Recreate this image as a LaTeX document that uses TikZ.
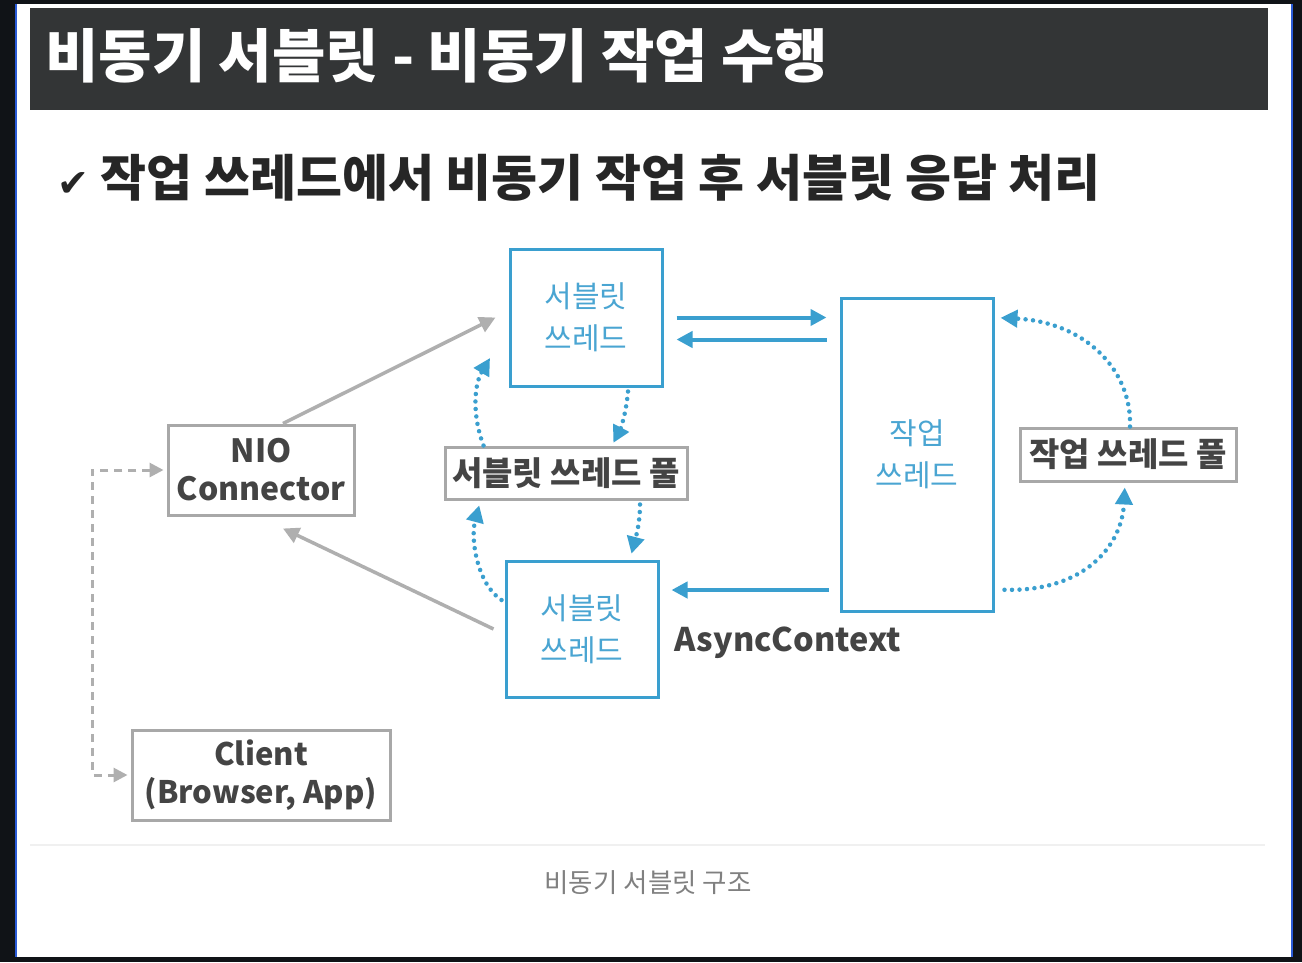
\documentclass[tikz,border=0pt]{standalone}
\usepackage{fontspec}
\setmainfont{Noto Sans CJK KR}
\newfontfamily\symfont{DejaVu Sans}
\usetikzlibrary{arrows.meta,calc}
\definecolor{bframe}{HTML}{101317}
\definecolor{bline}{HTML}{2A5BD7}
\definecolor{tbar}{HTML}{333536}
\definecolor{sblue}{HTML}{3A9FCF}
\definecolor{tblue}{HTML}{4AA5D2}
\definecolor{gbox}{HTML}{A8A8A8}
\definecolor{gtext}{HTML}{444444}
\definecolor{garrow}{HTML}{AFAFAF}
\tikzset{
  bluebox/.style={draw=sblue, line width=3pt, inner sep=0pt, text=tblue, align=center, font=\fontsize{30}{42}\selectfont},
  graybox/.style={draw=gbox, line width=3pt, inner sep=0pt, text=gtext, align=center, font=\bfseries\fontsize{32}{38}\selectfont},
  barrow/.style={draw=sblue, line width=4pt, -{Triangle[length=16pt,width=16pt]}},
  bdot/.style={draw=sblue, line width=4.5pt, line cap=round, dash pattern=on 0pt off 7.5pt, -{Triangle[length=17pt,width=17pt]}},
  garr/.style={draw=garrow, line width=3.5pt, -{Triangle[length=16pt,width=16pt]}},
  gdash/.style={draw=garrow, line width=3pt, dash pattern=on 8pt off 6pt, {Triangle[length=14pt,width=14pt]}-{Triangle[length=14pt,width=14pt]}}
}
\begin{document}
\begin{tikzpicture}[x=1pt,y=-1pt]
\useasboundingbox (0,0) rectangle (1302,962);
\fill[bframe] (0,0) rectangle (1302,962);
\fill[white] (16,4) rectangle (1292,957);
\draw[bline, line width=2pt] (16,4) -- (16,957);
\draw[bline, line width=2pt] (1292,4) -- (1292,957);
% title bar
\fill[tbar] (30,8) rectangle (1268,110);
\node[anchor=west, text=white, font=\bfseries\fontsize{58}{64}\selectfont] (title) at (42,56) {비동기 서블릿 - 비동기 작업 수행};
\node[anchor=west, text=black!85, font=\bfseries\fontsize{50}{56}\selectfont] (sub) at (54,178) {{\symfont\fontsize{38}{42}\selectfont ✔} 작업 쓰레드에서 비동기 작업 후 서블릿 응답 처리};
% boxes
\node[bluebox, minimum width=152pt, minimum height=137pt] (st1) at (586,317.5) {서블릿\\쓰레드};
\node[bluebox, minimum width=152pt, minimum height=313pt] (wt) at (917,454.5) {작업\\쓰레드};
\node[bluebox, minimum width=152pt, minimum height=136pt] (st2) at (582,629) {서블릿\\쓰레드};
\node[graybox, minimum width=186pt, minimum height=90pt] (nio) at (261,470) {NIO\\Connector};
\node[graybox, minimum width=242pt, minimum height=52pt, font=\bfseries\fontsize{33}{38}\selectfont] (stp) at (566,473) {서블릿 쓰레드 풀};
\node[graybox, minimum width=216pt, minimum height=53pt, font=\bfseries\fontsize{33}{38}\selectfont] (wtp) at (1128,454.5) {작업 쓰레드 풀};
\node[graybox, minimum width=258pt, minimum height=90pt, font=\bfseries\fontsize{31}{38}\selectfont] (client) at (261,775) {Client\\(Browser, App)};
\node[text=gtext, font=\bfseries\fontsize{32.5}{36}\selectfont] (ac) at (788,643) {AsyncContext};
% gray arrows
\draw[garr] ([xshift=22pt]nio.north) -- ([xshift=-13pt]st1.west);
\draw[garr] (st2.west) ++(-11,0) -- ([xshift=22pt,yshift=-12pt]nio.south);
\draw[gdash, shorten <=3pt, shorten >=3pt] (nio.west) -- ++(-74,0) |- (client.west);
% blue solid arrows
\draw[barrow, shorten <=13pt, shorten >=13pt] (st1.east) -- (st1.east -| wt.west);
\draw[barrow, shorten <=13pt, shorten >=13pt] ([yshift=-22pt]st1.east -| wt.west) -- ([yshift=-22pt]st1.east);
\draw[barrow, shorten <=11pt, shorten >=12pt] ([yshift=39pt]st2.east -| wt.west) -- ([yshift=39pt]st2.east);
% blue dotted curves
\coordinate (a1) at (490,358);
\draw[bdot] ([xshift=40pt]stp.north west) .. controls (472,415) and (474,385) .. (a1);
\draw[bdot, shorten >=3pt] ([xshift=42pt,yshift=-4pt]st1.south) .. controls (626,415) and (620,430) .. ([xshift=46pt]stp.north);
\draw[bdot, shorten >=6pt] ([xshift=74pt,yshift=-4pt]stp.south) .. controls (640,525) and (635,540) .. ([xshift=48pt]st2.north);
\draw[bdot, shorten >=5pt] ([xshift=-3pt,yshift=29pt]st2.west) .. controls (478,585) and (470,540) .. ([xshift=37pt]stp.south west);
\draw[bdot, shorten >=6pt] ([xshift=2pt]wtp.north) .. controls (1132,370) and (1085,322) .. ([yshift=137pt]wt.east);
\draw[bdot, shorten <=10pt, shorten >=5pt] ([yshift=-135pt]wt.east) .. controls (1085,592) and (1122,545) .. ([xshift=-3pt]wtp.south);
% caption
\draw[black!6, line width=2pt] (30,845) -- (1265,845);
\node[text=black!50, font=\fontsize{26.5}{30}\selectfont] (cap) at (648,883) {비동기 서블릿 구조};
\end{tikzpicture}
\end{document}
